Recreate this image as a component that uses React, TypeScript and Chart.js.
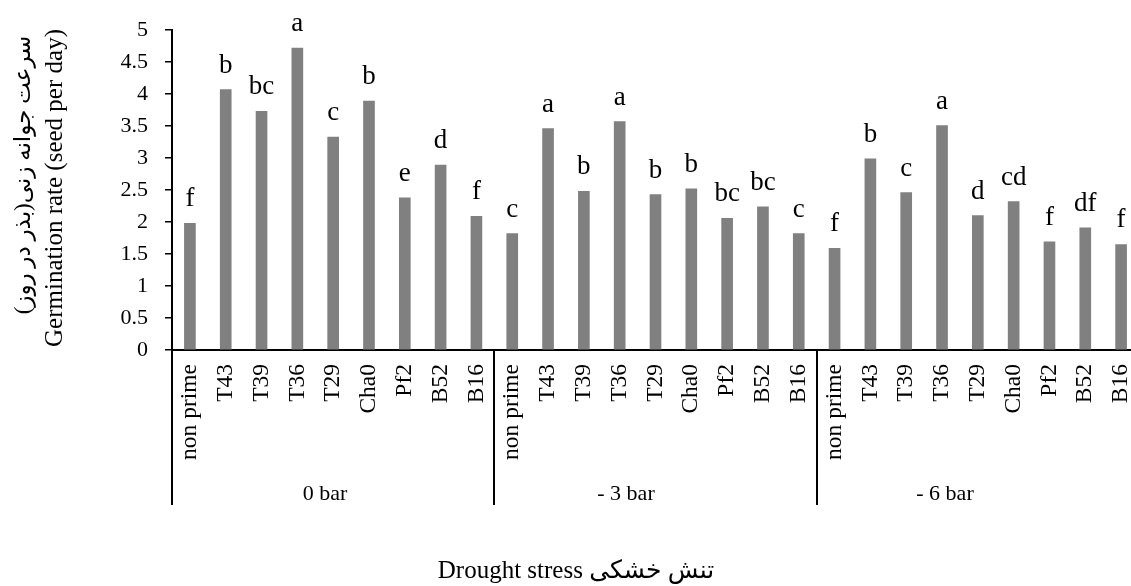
import React, { useEffect, useRef } from 'react';
import { Chart, registerables } from 'chart.js';

Chart.register(...registerables);

const categories = ['non prime', 'T43', 'T39', 'T36', 'T29', 'Cha0', 'Pf2', 'B52', 'B16'];
const groups = ['0 bar', '- 3 bar', '- 6 bar'];
const values0bar = [1.98, 4.07, 3.73, 4.72, 3.33, 3.89, 2.38, 2.89, 2.09];
const values3bar = [1.82, 3.46, 2.48, 3.57, 2.43, 2.52, 2.06, 2.24, 1.82];
const values6bar = [1.59, 2.99, 2.46, 3.51, 2.1, 2.32, 1.69, 1.91, 1.65];
const letters0bar = ['f', 'b', 'bc', 'a', 'c', 'b', 'e', 'd', 'f'];
const letters3bar = ['c', 'a', 'b', 'a', 'b', 'b', 'bc', 'bc', 'c'];
const letters6bar = ['f', 'b', 'c', 'a', 'd', 'cd', 'f', 'df', 'f'];
const yTitleEn = 'Germination rate (seed per day)';
const yTitleFa = 'سرعت جوانه زنی(بذر در روز)';
const xTitle = 'Drought stress تنش خشکی';

const FONT = "'Liberation Serif', 'Times New Roman', serif";
const FONT_FA = "'Liberation Serif', 'DejaVu Sans', serif";

export default function App() {
  const ref = useRef<HTMLCanvasElement>(null);

  useEffect(() => {
    const canvas = ref.current;
    if (!canvas) return;
    const labels = [...categories, ...categories, ...categories];
    const values = [...values0bar, ...values3bar, ...values6bar];
    const letters = [...letters0bar, ...letters3bar, ...letters6bar];
    const groupLabelX = [325, 626, 945];

    const overlay = {
      id: 'overlay',
      afterDatasetsDraw(chart: any) {
        const ctx = chart.ctx;
        const meta = chart.getDatasetMeta(0);
        ctx.save();
        ctx.fillStyle = '#000';
        ctx.font = `27px ${FONT}`;
        ctx.textAlign = 'center';
        ctx.textBaseline = 'alphabetic';
        meta.data.forEach((el: any, i: number) => {
          ctx.fillText(letters[i], el.x, el.y - 17);
        });
        ctx.restore();
      },
      afterDraw(chart: any) {
        const ctx = chart.ctx;
        const { left, right, bottom } = chart.chartArea;
        ctx.save();
        ctx.strokeStyle = '#000';
        ctx.lineWidth = 2;
        const n = groups.length;
        for (let i = 0; i <= n; i++) {
          const x = Math.round(left + (i * (right - left)) / n);
          ctx.beginPath();
          ctx.moveTo(x, bottom);
          ctx.lineTo(x, 505);
          ctx.stroke();
        }
        ctx.fillStyle = '#000';
        ctx.font = `22px ${FONT}`;
        ctx.textAlign = 'center';
        ctx.textBaseline = 'alphabetic';
        groups.forEach((g, i) => ctx.fillText(g, groupLabelX[i], 500));

        // x title
        ctx.font = `25px ${FONT_FA}`;
        ctx.fillText(xTitle, 576, 578);

        // y titles
        ctx.save();
        ctx.translate(55, 188);
        ctx.rotate(-Math.PI / 2);
        ctx.font = `25px ${FONT}`;
        ctx.textBaseline = 'middle';
        ctx.fillText(yTitleEn, 0, 0);
        ctx.restore();

        ctx.save();
        ctx.translate(24, 175);
        ctx.rotate(-Math.PI / 2);
        ctx.font = `23px ${FONT_FA}`;
        ctx.textBaseline = 'middle';
        (ctx as any).direction = 'rtl';
        ctx.fillText(yTitleFa, 0, 0);
        ctx.restore();

        ctx.restore();
      },
    };

    const chart = new Chart(canvas, {
      type: 'bar',
      data: {
        labels,
        datasets: [
          {
            data: values,
            backgroundColor: '#808080',
            borderWidth: 0,
            barThickness: 11,
          },
        ],
      },
      options: {
        responsive: false,
        animation: false,
        devicePixelRatio: 1,
        layout: { padding: { left: 0, top: 25, right: 3, bottom: 0 } },
        plugins: {
          legend: { display: false },
          tooltip: { enabled: false },
        },
        scales: {
          x: {
            type: 'category',
            afterFit: (scale: any) => {
              scale.height = 236;
              scale.paddingLeft = 0;
              scale.paddingRight = 0;
            },
            grid: { display: false, drawTicks: false },
            border: { display: true, color: '#000', width: 2 },
            ticks: {
              autoSkip: false,
              minRotation: 90,
              maxRotation: 90,
              padding: 14,
              color: '#000',
              font: { family: FONT, size: 23.5 },
            },
          },
          y: {
            min: 0,
            max: 5,
            afterFit: (scale: any) => {
              scale.width = 172;
            },
            grid: {
              drawOnChartArea: false,
              drawTicks: true,
              tickLength: 7,
              color: '#000',
              lineWidth: 1.5,
            },
            border: { display: true, color: '#000', width: 2 },
            ticks: {
              stepSize: 0.5,
              padding: 17,
              color: '#000',
              font: { family: FONT, size: 22 },
              callback: (v: any) => String(Number(v)),
            },
          },
        },
      },
      plugins: [overlay],
    });

    return () => chart.destroy();
  }, []);

  return (
    <div
      style={{
        position: 'absolute',
        left: 0,
        top: 0,
        width: 1131,
        height: 586,
        overflow: 'hidden',
        background: '#fff',
      }}
    >
      <canvas ref={ref} width={1142} height={586} style={{ display: 'block', width: 1142, height: 586 }} />
    </div>
  );
}
